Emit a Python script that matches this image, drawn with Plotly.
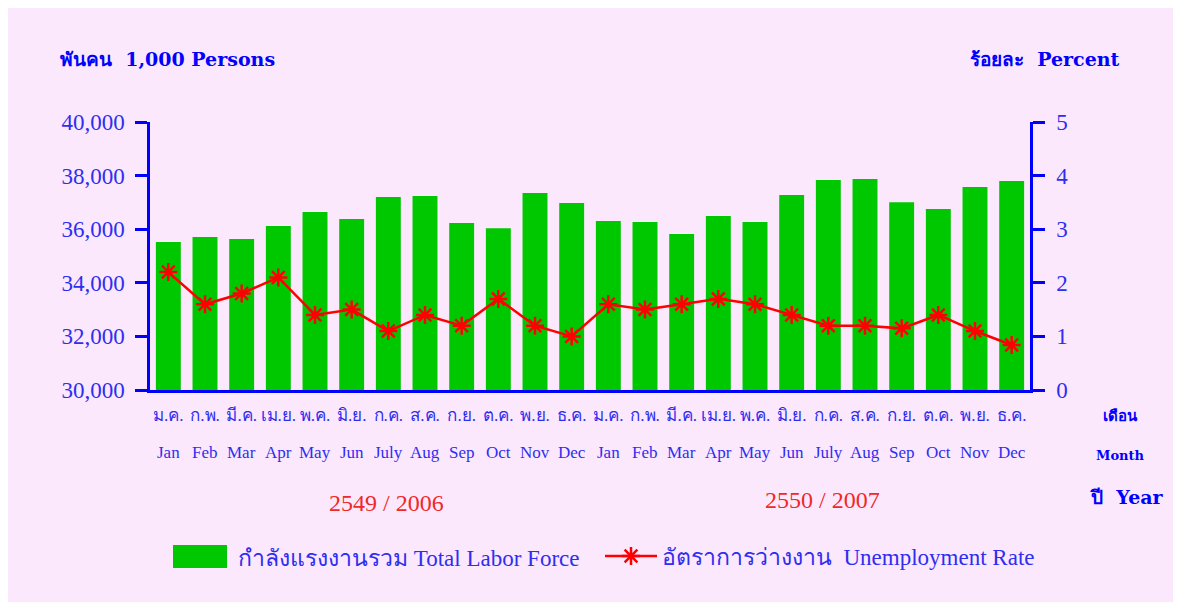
import plotly.graph_objects as go

months_th = ["ม.ค.", "ก.พ.", "มี.ค.", "เม.ย.", "พ.ค.", "มิ.ย.", "ก.ค.", "ส.ค.", "ก.ย.", "ต.ค.", "พ.ย.", "ธ.ค."]
months_en = ["Jan", "Feb", "Mar", "Apr", "May", "Jun", "July", "Aug", "Sep", "Oct", "Nov", "Dec"]
years = ["2549 / 2006", "2550 / 2007"]

labor_force = [35520, 35710, 35630, 36120, 36640, 36380, 37200, 37240, 36230, 36040, 37350, 36980,
               36310, 36270, 35820, 36490, 36270, 37280, 37840, 37870, 37010, 36750, 37570, 37800]
unemployment = [2.2, 1.6, 1.8, 2.1, 1.4, 1.5, 1.1, 1.4, 1.2, 1.7, 1.2, 1.0,
                1.6, 1.5, 1.6, 1.7, 1.6, 1.4, 1.2, 1.2, 1.15, 1.4, 1.1, 0.84]

# page is offset by 8px body margin; figure size
OFF = 8
W, H = 1165, 594
# plot area in page coordinates
L, R, T, B = 150, 1030, 122, 390
PW, PH = R - L, B - T


def px(x):
    return (x - L) / PW


def py(y):
    return (B - y) / PH


cats = list(range(24))
ticktext = [months_th[i % 12] for i in cats]

BLUE = "#0000FF"
TXT = "#2E2EF0"
PINK = "#FCE8FC"
SERIF = "Liberation Serif, DejaVu Serif, serif"
BOLD = "DejaVu Serif, serif"

fig = go.Figure()
fig.add_trace(go.Bar(
    x=cats, y=labor_force, name="กำลังแรงงานรวม Total Labor Force",
    marker=dict(color="#00C800", line=dict(width=0)), yaxis="y", showlegend=False,
))
fig.add_trace(go.Scatter(
    x=cats, y=unemployment, name="อัตราการว่างงาน  Unemployment Rate",
    mode="lines+markers", yaxis="y2",
    line=dict(color="#FF0000", width=2.5),
    marker=dict(symbol="asterisk-open", size=15, color="#FF0000", line=dict(color="#FF0000", width=2.5)),
))

annotations = [
    dict(x=px(58), y=py(59), text="<b>พันคน  1,000 Persons</b>", xanchor="left", yanchor="middle",
         font=dict(family=BOLD, size=19, color=BLUE)),
    dict(x=px(1122), y=py(59), text="<b>ร้อยละ  Percent</b>", xanchor="right", yanchor="middle",
         font=dict(family=BOLD, size=19, color=BLUE)),
    dict(x=px(1120), y=py(416), text="<b>เดือน</b>", xanchor="center", yanchor="middle",
         font=dict(family=BOLD, size=15, color=BLUE)),
    dict(x=px(1120), y=py(455), text="<b>Month</b>", xanchor="center", yanchor="middle",
         font=dict(family=BOLD, size=13, color=BLUE)),
    dict(x=px(1127), y=py(497), text="<b>ปี  Year</b>", xanchor="center", yanchor="middle",
         font=dict(family=BOLD, size=19, color=BLUE)),
    dict(x=px(386), y=py(503), text=years[0], xanchor="center", yanchor="middle",
         font=dict(family=SERIF, size=24, color="#F02828")),
    dict(x=px(822), y=py(500), text=years[1], xanchor="center", yanchor="middle",
         font=dict(family=SERIF, size=24, color="#F02828")),
    dict(x=px(236), y=py(558), text="กำลังแรงงานรวม Total Labor Force", xanchor="left", yanchor="middle",
         font=dict(family=SERIF, size=23, color=TXT)),
]
for a in annotations:
    a.update(xref="paper", yref="paper", showarrow=False)

# English month row under the Thai tick labels
for i in cats:
    annotations.append(dict(x=i, xref="x", y=py(452), yref="paper", text=months_en[i % 12],
                            showarrow=False, xanchor="center", yanchor="middle",
                            font=dict(family=SERIF, size=17, color=TXT)))

fig.update_layout(
    width=W, height=H,
    margin=dict(l=L - OFF, r=W - (R - OFF), t=T - OFF, b=H - (B - OFF), pad=0),
    paper_bgcolor=PINK, plot_bgcolor=PINK,
    bargap=0.32,
    showlegend=True,
    legend=dict(orientation="h", x=px(600), y=py(556), xanchor="left", yanchor="middle",
                font=dict(family=SERIF, size=23, color=TXT), bgcolor="rgba(0,0,0,0)",
                itemwidth=52),
    xaxis=dict(
        tickmode="array", tickvals=cats, ticktext=ticktext,
        range=[-0.5, 23.5], showgrid=False, zeroline=False,
        showline=True, linecolor=BLUE, linewidth=2.5, ticks="",
        tickfont=dict(family=SERIF, size=17, color=TXT), tickangle=0,
        ticklabelstandoff=8,
    ),
    yaxis=dict(
        range=[30000, 40000], tickvals=[30000, 32000, 34000, 36000, 38000, 40000],
        ticktext=["30,000", "32,000", "34,000", "36,000", "38,000", "40,000"],
        showgrid=False, zeroline=False, showline=True, linecolor=BLUE, linewidth=2.5,
        ticks="outside", ticklen=12, tickwidth=2.5, tickcolor=BLUE,
        tickfont=dict(family=SERIF, size=23, color=TXT), ticklabelstandoff=6,
    ),
    yaxis2=dict(
        range=[0, 5], tickvals=[0, 1, 2, 3, 4, 5], overlaying="y", side="right",
        showgrid=False, zeroline=False, showline=True, linecolor=BLUE, linewidth=2.5,
        ticks="outside", ticklen=12, tickwidth=2.5, tickcolor=BLUE,
        tickfont=dict(family=SERIF, size=23, color=TXT), ticklabelstandoff=7,
    ),
    shapes=[dict(type="rect", xref="paper", yref="paper", x0=px(173), x1=px(227), y0=py(568), y1=py(545),
                 fillcolor="#00C800", line=dict(width=0))],
    annotations=annotations,
)

fig.write_html("out.html")
